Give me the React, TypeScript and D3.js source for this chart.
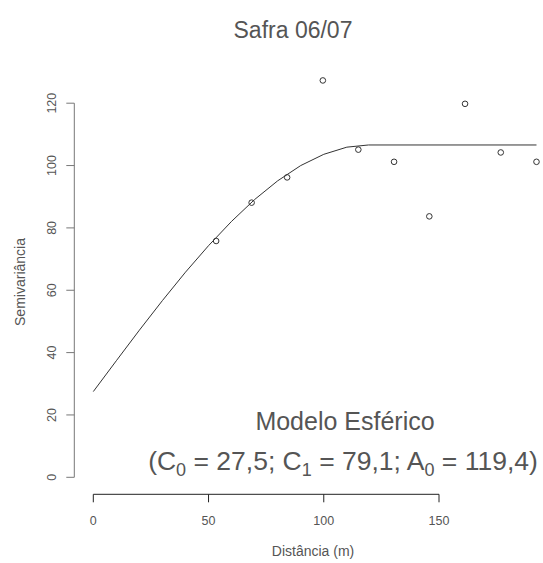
import React from 'react';
import * as d3 from 'd3';

// experimental semivariogram (lag distance, semivariance)
const lagDist = [53.3, 68.7, 84.1, 99.6, 115.0, 130.5, 145.8, 161.3, 176.8, 192.3];
const semivar = [75.8, 88.1, 96.2, 127.3, 105.1, 101.2, 83.7, 119.8, 104.2, 101.2];

// fitted spherical model
const modelDist = [0, 10, 20, 30, 40, 50, 60, 70, 80, 90, 100, 110, 119.4, 192.3];
const modelVal = [27.5, 37.4, 47.2, 56.7, 65.8, 74.3, 82.1, 89.1, 95.1, 100.0, 103.6, 105.9, 106.6, 106.6];

const xTicks = [0, 50, 100, 150];
const yTicks = [0, 20, 40, 60, 80, 100, 120];

const title = 'Safra 06/07';
const xLabel = 'Distância (m)';
const yLabel = 'Semivariância';

export default function App() {
  const width = 543;
  const height = 563;
  const font = '"Liberation Sans", Arial, sans-serif';
  const txt = '#555';

  const x = d3.scaleLinear().domain([0, 150]).range([93.3, 439]);
  const y = d3.scaleLinear().domain([0, 120]).range([477.3, 103.2]);

  const line = d3.line<number>()
    .x((_, i) => x(modelDist[i]))
    .y(d => y(d));

  const xAxisY = 494.3;
  const yAxisX = 74.3;

  return (
    <svg width={width} height={height} style={{ position: 'absolute', left: 0, top: 0, background: '#fff' }}
      fontFamily={font}>
      <text x={293} y={38} textAnchor="middle" fontSize={23} fill={txt}>{title}</text>

      {/* y axis */}
      <line x1={yAxisX} x2={yAxisX} y1={y(yTicks[0])} y2={y(yTicks[yTicks.length - 1])} stroke="#777" />
      {yTicks.map(t => (
        <g key={t}>
          <line x1={yAxisX - 8} x2={yAxisX} y1={y(t)} y2={y(t)} stroke="#777" />
          <text transform={`translate(${52},${y(t)}) rotate(-90)`} textAnchor="middle" dy="0.35em"
            fontSize={12.5} fill={txt}>{t}</text>
        </g>
      ))}
      <text transform={`translate(20,282) rotate(-90)`} textAnchor="middle" dy="0.35em" fontSize={14} fill={txt}>{yLabel}</text>

      {/* x axis */}
      <line x1={x(xTicks[0])} x2={x(xTicks[xTicks.length - 1])} y1={xAxisY} y2={xAxisY} stroke="#222" />
      {xTicks.map(t => (
        <g key={t}>
          <line x1={x(t)} x2={x(t)} y1={xAxisY} y2={xAxisY + 8} stroke="#222" />
          <text x={x(t)} y={521} dy="0.35em" textAnchor="middle" fontSize={12.5} fill={txt}>{t}</text>
        </g>
      ))}
      <text x={313} y={551} dy="0.35em" textAnchor="middle" fontSize={14} fill={txt}>{xLabel}</text>

      {/* model curve */}
      <path d={line(modelVal) || ''} fill="none" stroke="#333" strokeWidth={1} />

      {/* observed points */}
      {lagDist.map((d, i) => (
        <circle key={i} cx={x(d)} cy={y(semivar[i])} r={2.8} fill="none" stroke="#333" strokeWidth={1} />
      ))}

      {/* annotation */}
      <text x={345} y={430} textAnchor="middle" fontSize={25} fill={txt}>Modelo Esférico</text>
      <text x={343} y={470} textAnchor="middle" fontSize={26.5} fill={txt}>
        (C<tspan dy={6} fontSize={18}>0</tspan><tspan dy={-6}> = 27,5; C</tspan>
        <tspan dy={6} fontSize={18}>1</tspan><tspan dy={-6}> = 79,1; A</tspan>
        <tspan dy={6} fontSize={18}>0</tspan><tspan dy={-6}> = 119,4)</tspan>
      </text>
    </svg>
  );
}
